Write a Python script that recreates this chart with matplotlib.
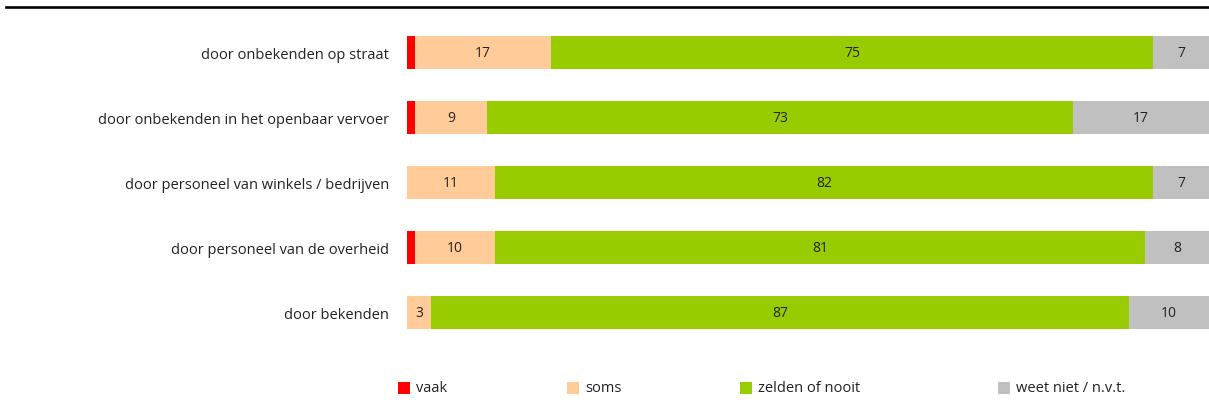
import matplotlib.pyplot as plt
from matplotlib.patches import Rectangle
from matplotlib.lines import Line2D
import numpy as np

plt.rcParams['font.family'] = ['Open Sans', 'DejaVu Sans']

categories = [
    'door onbekenden op straat',
    'door onbekenden in het openbaar vervoer',
    'door personeel van winkels / bedrijven',
    'door personeel van de overheid',
    'door bekenden',
]
vaak = [1, 1, 0, 1, 0]
soms = [17, 9, 11, 10, 3]
zelden = [75, 73, 82, 81, 87]
weet_niet = [7, 17, 7, 8, 10]

series_names = ['vaak', 'soms', 'zelden of nooit', 'weet niet / n.v.t.']
colors = ['#FF0000', '#FFCC99', '#99CC00', '#C0C0C0']
text_color = '#222222'

fig = plt.figure(figsize=(12.09, 4.14), dpi=100)
ax = fig.add_axes([407 / 1209, 1 - 346 / 414, 1 - 407 / 1209, 325 / 414])

y = np.arange(len(categories))
left = np.zeros(len(categories))
for name, vals, col in zip(series_names, [vaak, soms, zelden, weet_niet], colors):
    vals = np.array(vals, dtype=float)
    ax.barh(y, vals, left=left, height=0.51, color=col, linewidth=0)
    if name != 'vaak':
        for yi, l, v in zip(y, left, vals):
            if v > 0:
                ax.text(l + v / 2, yi, str(int(v)), ha='center', va='center',
                        fontsize=10, color=text_color)
    left += vals

ax.set_xlim(0, 100)
ax.set_ylim(len(categories) - 0.5, -0.5)
ax.set_yticks(y)
ax.set_yticklabels(categories, fontsize=10.5, color=text_color)
ax.tick_params(axis='y', length=0, pad=13)
ax.set_xticks([])
for s in ax.spines.values():
    s.set_visible(False)

# line across the top
fig.add_artist(Line2D([6 / 1209, 1], [1 - 7.5 / 414] * 2, color='black', lw=1.9))

# legend along the bottom
leg_x = [398, 567, 740, 998]
leg_y = 389
sq = 12
for name, col, lx in zip(series_names, colors, leg_x):
    fig.add_artist(Rectangle((lx / 1209, 1 - (leg_y + sq / 2) / 414), sq / 1209, sq / 414,
                             facecolor=col, edgecolor='none', transform=fig.transFigure))
    fig.text((lx + sq + 6) / 1209, 1 - leg_y / 414, name, ha='left', va='center',
             fontsize=10.5, color=text_color)

fig.savefig('out.png', dpi=100)
